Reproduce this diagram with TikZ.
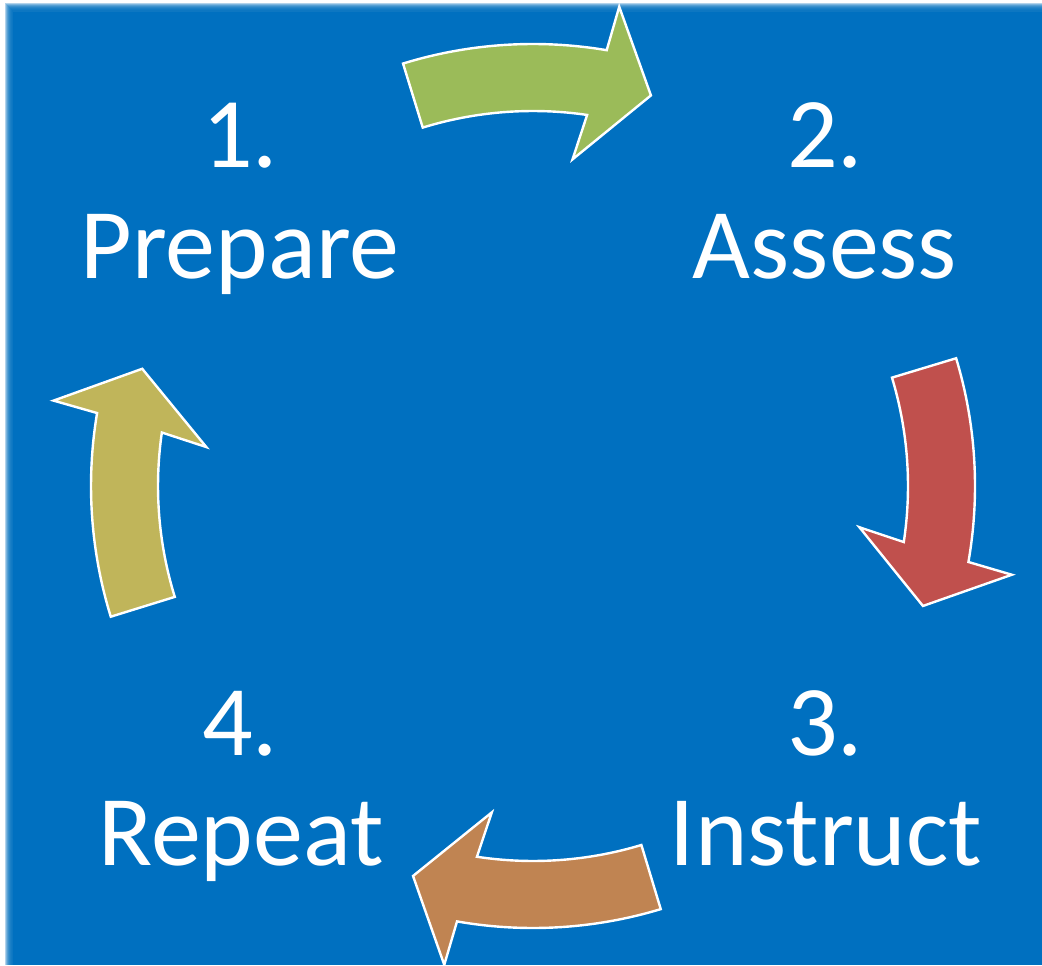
\documentclass[tikz,border=0pt]{standalone}
\usepackage{fontspec}
\setmainfont{Carlito}
\definecolor{bgblue}{HTML}{0070C0}
\definecolor{arrowgreen}{HTML}{9BBB59}
\definecolor{arrowred}{HTML}{C0504D}
\definecolor{arrowbrown}{HTML}{C08452}
\definecolor{arrowolive}{HTML}{C0B55A}
\tikzset{
  cyclearrow/.style={draw=white, line width=1.2pt, line join=miter},
  steplabel/.style={text=white, font=\fontsize{50}{55}\selectfont, inner sep=0pt, anchor=base},
}
\begin{document}
\begin{tikzpicture}[x=0.5pt, y=0.5pt]
  \useasboundingbox (0,0) rectangle (1042,965);
  % background with soft top/left edge
  \fill[white] (0,0) rectangle (1042,965);
  \foreach \i in {0,...,7} {
    \fill[bgblue, opacity=0.3] (5+\i,0) rectangle (1042,962-\i);
  }
  \fill[bgblue] (13,0) rectangle (1042,953);
  % curved cycle arrows around centre
  \begin{scope}[shift={(533,479)}]
    \foreach \t/\c in {107.1/arrowgreen, 16.8/arrowred, -73.2/arrowbrown, -162.8/arrowolive} {
      \draw[cyclearrow, fill=\c] (\t:442)
        arc[start angle=\t, end angle=\t-26.7, radius=221pt]
        -- (\t-27.3:487) -- (\t-33.9:408) -- (\t-24.0:329) -- (\t-25.4:375)
        arc[start angle=\t-25.4, end angle=\t, radius=187.5pt] -- cycle;
    }
  \end{scope}
  % labels
  \node[steplabel] (num1) at (240,797) {1.};
  \node[steplabel] (lab1) at (240,686) {Prepare};
  \node[steplabel] (num2) at (825,797) {2.};
  \node[steplabel] (lab2) at (825,686) {Assess};
  \node[steplabel] (num3) at (825,210) {3.};
  \node[steplabel] (lab3) at (826,100) {Instruct};
  \node[steplabel] (num4) at (240,210) {4.};
  \node[steplabel] (lab4) at (241,100) {Repeat};
\end{tikzpicture}
\end{document}
